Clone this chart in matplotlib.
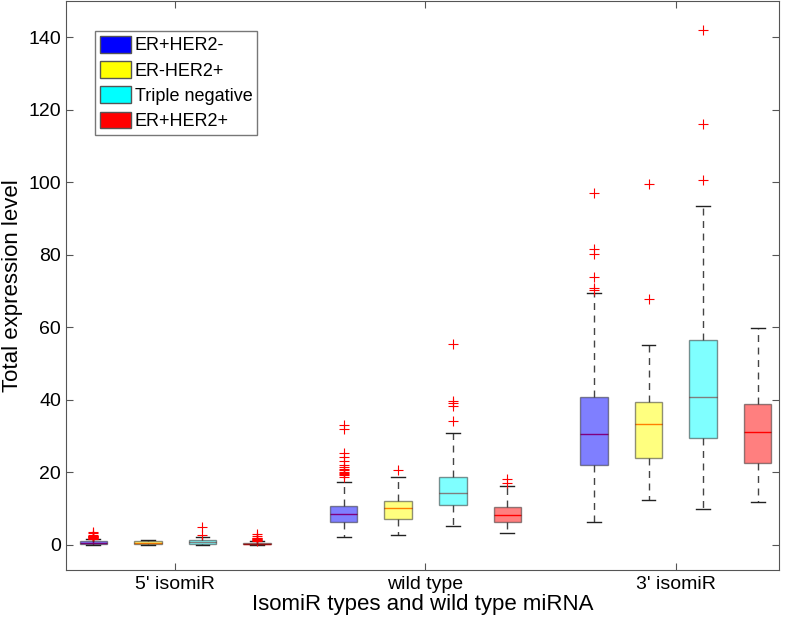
import numpy as np
import matplotlib.pyplot as plt
from matplotlib.patches import Patch

plt.rcParams['font.family'] = ['Liberation Sans', 'DejaVu Sans']

# categories
groups = ["5' isomiR", "wild type", "3' isomiR"]
subtypes = ['ER+HER2-', 'ER-HER2+', 'Triple negative', 'ER+HER2+']
colors = ['blue', 'yellow', 'cyan', 'red']

# box stats, group by group (4 subtypes each)
medians = [0.5, 0.5, 0.8, 0.3, 8.5, 10.2, 14.3, 8.1, 30.5, 33.3, 40.9, 31.1]
q1 = [0.2, 0.2, 0.3, 0.15, 6.2, 7.2, 10.9, 6.2, 21.9, 24.0, 29.5, 22.5]
q3 = [0.9, 0.9, 1.4, 0.55, 10.8, 12.0, 18.7, 10.3, 40.9, 39.3, 56.5, 38.7]
whislo = [0.0, 0.0, 0.0, 0.0, 2.0, 2.8, 5.3, 3.1, 6.4, 12.4, 9.9, 11.8]
whishi = [1.5, 1.3, 2.1, 0.9, 17.4, 18.6, 30.7, 16.2, 69.4, 55.2, 93.5, 59.9]
outliers = [
    [1.6, 1.7, 1.8, 1.9, 2.0, 2.1, 2.2, 2.3, 2.4, 2.5, 2.6, 3.1, 3.6],
    [],
    [2.6, 5.0],
    [1.1, 1.2, 1.4, 1.5, 1.6, 1.8, 1.9, 2.4, 3.0],
    [18.6, 19.2, 19.5, 19.9, 20.2, 20.5, 21.0, 21.5, 22.1, 23.0, 24.1, 25.2, 31.9, 33.1],
    [20.5],
    [34.1, 38.3, 39.2, 39.7, 55.4],
    [17.0, 18.2],
    [70.3, 70.8, 73.8, 80.3, 81.6, 97.0],
    [67.7, 99.5],
    [100.8, 116.0, 142.1],
    [],
]

offs = [-0.327, -0.109, 0.109, 0.327]
pos = [g + 1 + o for g in range(len(groups)) for o in offs]

stats = []
for i in range(len(medians)):
    stats.append({'med': medians[i], 'q1': q1[i], 'q3': q3[i],
                  'whislo': whislo[i], 'whishi': whishi[i],
                  'fliers': outliers[i]})

fig = plt.figure(figsize=(7.86, 6.32), dpi=100)
ax = fig.add_axes([0.084, 0.098, 0.907, 0.9])

bp = ax.bxp(stats, positions=pos, widths=0.11, patch_artist=True,
            boxprops=dict(edgecolor='#222222', linewidth=1.0),
            medianprops=dict(color='red', linewidth=1.0),
            whiskerprops=dict(color='#444444', linestyle=(0, (5, 4)), linewidth=1.0),
            capprops=dict(color='#222222', linewidth=1.0),
            flierprops=dict(marker='+', markeredgecolor='red', markersize=7,
                            markeredgewidth=0.8, linestyle='none'))
# patches sit on top of the median like in matlab
for i, b in enumerate(bp['boxes']):
    b.set_facecolor(colors[i % 4])
    b.set_alpha(0.5)
    b.set_zorder(4)
for m in bp['medians']:
    m.set_zorder(3)

ax.set_xlim(0.564, 3.412)
ax.set_ylim(-7, 150)
ax.set_xticks([1, 2, 3])
ax.set_xticklabels(groups)
ax.set_yticks(np.arange(0, 141, 20))
ax.tick_params(direction='in', top=True, right=True, labelsize=14,
               color='#555555', length=5)
ax.tick_params(axis='x', pad=4)
for s in ax.spines.values():
    s.set_color('#555555')
ax.set_xlabel('IsomiR types and wild type miRNA', fontsize=16, labelpad=1)
ax.set_ylabel('Total expression level', fontsize=16)

handles = [Patch(facecolor=c, edgecolor='#555555') for c in colors]
ax.legend(handles, subtypes, loc='upper left', bbox_to_anchor=(0.041, 0.947),
          fontsize=13, frameon=True, fancybox=False, edgecolor='#555555',
          handlelength=1.75, handleheight=1.05, handletextpad=0.2,
          labelspacing=0.37, borderpad=0.25, borderaxespad=0)

fig.savefig('out.png', dpi=100)
